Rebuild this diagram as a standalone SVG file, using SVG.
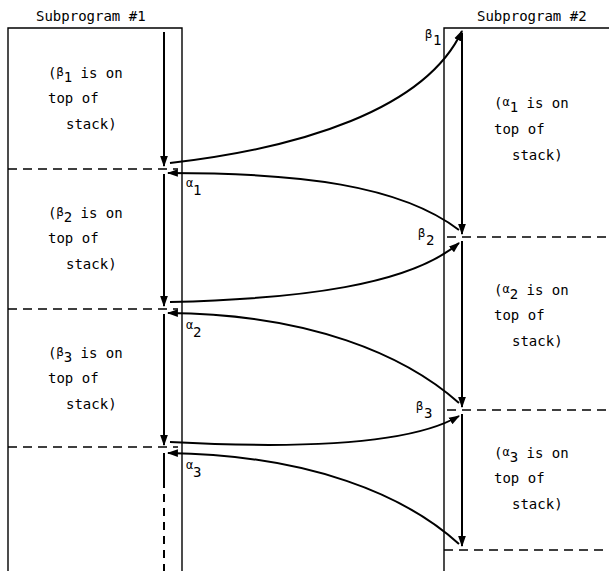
<svg xmlns="http://www.w3.org/2000/svg" width="609" height="571" viewBox="0 0 609 571">
<defs>
<marker id="ah" viewBox="0 0 10 10" refX="9" refY="5" markerWidth="11" markerHeight="11" markerUnits="userSpaceOnUse" orient="auto">
<path d="M0,1.5 L10,5 L0,8.5 Z" fill="#000"/>
</marker>
<style>
text{font-family:"DejaVu Sans Mono","Liberation Mono",monospace;font-size:14px;fill:#000}
.g{font-size:12px}
.box{fill:none;stroke:#000;stroke-width:1.4}
.dash{fill:none;stroke:#000;stroke-width:1.4;stroke-dasharray:9,6}
.flow{fill:none;stroke:#000;stroke-width:2;marker-end:url(#ah)}
.curve{fill:none;stroke:#000;stroke-width:2;marker-end:url(#ah)}
</style>
</defs>
<rect width="609" height="571" fill="#fff"/>
<g id="sub1">
<text x="36" y="21">Subprogram #1</text>
<path class="box" d="M8,571 V28 H182 V571"/>
<path class="dash" d="M8,169 H178"/>
<path class="dash" d="M8,309 H178"/>
<path class="dash" d="M8,447 H178"/>
<text x="48" y="78">(<tspan class="g" dy="-2">β</tspan><tspan dy="6">1</tspan><tspan dy="-4"> is on</tspan></text>
<text x="48" y="103">top of</text>
<text x="66" y="129">stack)</text>
<text x="48" y="218">(<tspan class="g" dy="-2">β</tspan><tspan dy="6">2</tspan><tspan dy="-4"> is on</tspan></text>
<text x="48" y="243">top of</text>
<text x="66" y="269">stack)</text>
<text x="48" y="358">(<tspan class="g" dy="-2">β</tspan><tspan dy="6">3</tspan><tspan dy="-4"> is on</tspan></text>
<text x="48" y="383">top of</text>
<text x="66" y="409">stack)</text>
</g>
<g id="sub2">
<text x="477" y="21">Subprogram #2</text>
<path class="box" d="M444,571 V28 H609"/>
<path class="dash" d="M447,237 H609"/>
<path class="dash" d="M447,410 H609"/>
<path class="dash" d="M444,550 H609"/>
<text x="494" y="108">(<tspan class="g" dy="-2">α</tspan><tspan dy="6">1</tspan><tspan dy="-4"> is on</tspan></text>
<text x="494" y="134">top of</text>
<text x="512" y="160">stack)</text>
<text x="494" y="295">(<tspan class="g" dy="-2">α</tspan><tspan dy="6">2</tspan><tspan dy="-4"> is on</tspan></text>
<text x="494" y="320">top of</text>
<text x="512" y="346">stack)</text>
<text x="494" y="458">(<tspan class="g" dy="-2">α</tspan><tspan dy="6">3</tspan><tspan dy="-4"> is on</tspan></text>
<text x="494" y="483">top of</text>
<text x="512" y="509">stack)</text>
</g>
<g id="labels">
<text class="g" x="425" y="38">β</text><text x="433" y="45">1</text>
<text class="g" x="186" y="187">α</text><text x="193" y="195">1</text>
<text class="g" x="418" y="237">β</text><text x="426" y="245">2</text>
<text class="g" x="186" y="329">α</text><text x="193" y="337">2</text>
<text class="g" x="416" y="410">β</text><text x="424" y="418">3</text>
<text class="g" x="186" y="469">α</text><text x="193" y="477">3</text>
</g>
<g id="connectors">
<line class="flow" x1="164" y1="32" x2="164" y2="166"/>
<line class="flow" x1="164" y1="174" x2="164" y2="306"/>
<line class="flow" x1="164" y1="314" x2="164" y2="445"/>
<line x1="164" y1="453" x2="164" y2="480" stroke="#000" stroke-width="2"/>
<line x1="164" y1="480" x2="164" y2="571" stroke="#000" stroke-width="2" stroke-dasharray="8,6"/>
<line class="flow" x1="462" y1="33" x2="462" y2="234"/>
<line class="flow" x1="462" y1="241" x2="462" y2="407"/>
<line class="flow" x1="462" y1="414" x2="462" y2="546"/>
<path class="curve" d="M170,163 C300,148 425,110 462,31"/>
<path class="curve" d="M459,230 C400,185 300,173 168,173"/>
<path class="curve" d="M170,302 C300,299 410,285 459,243"/>
<path class="curve" d="M459,403 C405,355 310,314 168,313"/>
<path class="curve" d="M170,442 C300,449 410,445 459,416"/>
<path class="curve" d="M459,544 C405,495 310,455 168,453"/>
</g>
</svg>
